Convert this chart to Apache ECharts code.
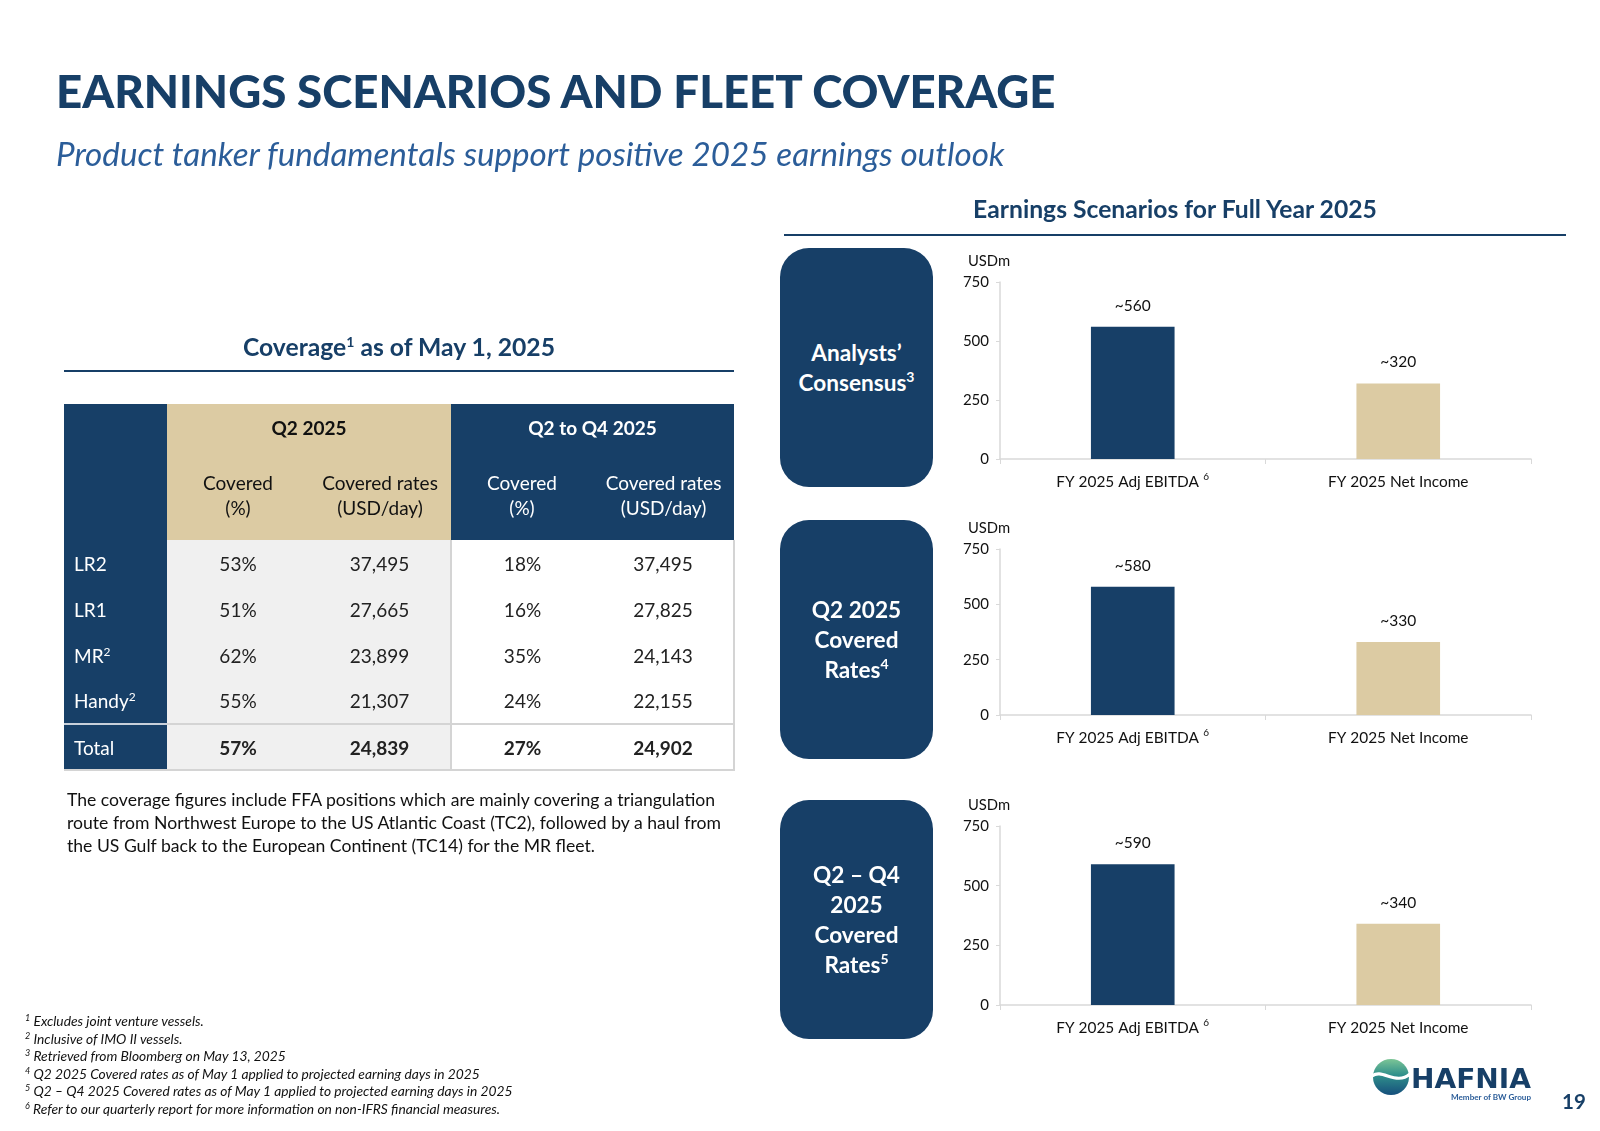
<!DOCTYPE html>
<html>
<head>
<meta charset="utf-8">
<script src="https://cdn.jsdelivr.net/npm/echarts@6/dist/echarts.min.js"></script>
<style>
  html, body { margin:0; padding:0; background:#fff; }
  body { width:1600px; height:1131px; position:relative; overflow:hidden; font-family: Lato, "Open Sans", sans-serif; color:#222; }
  #chart { position:absolute; left:0; top:0; width:1600px; height:1131px; }
  .abs { position:absolute; }
  #title { left:56px; top:63px; font-size:45.6px; font-weight:900; color:#173f67; white-space:nowrap; }
  #subtitle { left:56px; top:133px; font-size:33.2px; line-height:40px; font-style:italic; color:#2b5d99; white-space:nowrap; }
  .sect { font-weight:700; color:#173f67; font-size:24.7px; line-height:30px; white-space:nowrap; text-align:center; }
  .rule { height:2px; background:#173f67; }
  table.cov { position:absolute; left:64px; top:404px; border-collapse:collapse; table-layout:fixed; font-size:19px; }
  table.cov td { padding:0; text-align:center; vertical-align:middle; }
  .nav { background:#173f67; color:#fff; }
  .tan { background:#dccba3; color:#111; }
  .gry { background:#f0f0f0; }
  .wht { background:#fff; }
  .lbl { text-align:left !important; padding-left:10px !important; }
  sup { font-size:12px; vertical-align:7px; line-height:0; }
  .sect sup { font-size:14px; vertical-align:9px; }
  .box { position:absolute; left:780px; width:153px; height:239px; border-radius:29px; background:#173f67; color:#fff; font-weight:700; font-size:22.6px; display:flex; align-items:center; justify-content:center; text-align:center; line-height:30px; }
  .box sup { font-size:14px; vertical-align:9px; }
  #para { left:67px; top:788px; font-size:17.6px; line-height:23px; color:#111; width:670px; }
  #notes { left:25px; top:1012px; font-size:13.8px; line-height:17.55px; font-style:italic; color:#111; white-space:nowrap; }
  #notes sup { font-size:9px; vertical-align:5px; }
  #pg { left:1562px; top:1088px; font-size:20.5px; line-height:26px; font-weight:700; color:#173f67; }
</style>
</head>
<body>
<div id="chart"></div>

<div id="title" class="abs">EARNINGS SCENARIOS AND FLEET COVERAGE</div>
<div id="subtitle" class="abs">Product tanker fundamentals support positive 2025 earnings outlook</div>

<div class="abs sect" style="left:784px; width:782px; top:194px;">Earnings Scenarios for Full Year 2025</div>
<div class="abs rule" style="left:784px; width:782px; top:234px;"></div>

<div class="abs sect" style="left:64px; width:670px; top:332px;">Coverage<sup>1</sup> as of May 1, 2025</div>
<div class="abs rule" style="left:64px; width:670px; top:370px;"></div>

<table class="cov" id="covTable"></table>

<div class="box" style="top:248px;"><div>Analysts’<br>Consensus<sup>3</sup></div></div>
<div class="box" style="top:520px;"><div>Q2 2025<br>Covered<br>Rates<sup>4</sup></div></div>
<div class="box" style="top:800px;"><div>Q2 – Q4<br>2025<br>Covered<br>Rates<sup>5</sup></div></div>

<div id="para" class="abs">The coverage figures include FFA positions which are mainly covering a triangulation route from Northwest Europe to the US Atlantic Coast (TC2), followed by a haul from the US Gulf back to the European Continent (TC14) for the MR fleet.</div>

<div id="notes" class="abs">
<div><sup>1</sup> Excludes joint venture vessels.</div>
<div><sup>2</sup> Inclusive of IMO II vessels.</div>
<div><sup>3</sup> Retrieved from Bloomberg on May 13, 2025</div>
<div><sup>4</sup> Q2 2025 Covered rates as of May 1 applied to projected earning days in 2025</div>
<div><sup>5</sup> Q2 – Q4 2025 Covered rates as of May 1 applied to projected earning days in 2025</div>
<div><sup>6</sup> Refer to our quarterly report for more information on non-IFRS financial measures.</div>
</div>

<svg class="abs" style="left:1372px; top:1058px;" width="162" height="46" viewBox="0 0 162 46">
  <defs>
    <linearGradient id="lg" x1="0" y1="0" x2="0" y2="1">
      <stop offset="0" stop-color="#7cc596"/>
      <stop offset="0.45" stop-color="#2f8f8b"/>
      <stop offset="1" stop-color="#164f7c"/>
    </linearGradient>
  </defs>
  <circle cx="19" cy="19" r="18" fill="url(#lg)"/>
  <path d="M0 18 C 10 10, 24 28, 38 16" stroke="#fff" stroke-width="3.2" fill="none"/>
  <text x="39" y="30" font-family="DejaVu Sans" font-weight="700" font-size="27" fill="#173f67" textLength="120" lengthAdjust="spacingAndGlyphs">HAFNIA</text>
  <text x="79" y="42" font-family="Lato" font-weight="700" font-size="8" fill="#2b5d99" textLength="80" lengthAdjust="spacingAndGlyphs">Member of BW Group</text>
</svg>
<div id="pg" class="abs">19</div>

<script>
// ---------- Table data ----------
const vesselClasses = ['LR2', 'LR1', 'MR', 'Handy'];
const vesselFootnotes = ['', '', '2', '2'];
const q2CoveredPct = [53, 51, 62, 55];
const q2CoveredRates = [37495, 27665, 23899, 21307];
const q2q4CoveredPct = [18, 16, 35, 24];
const q2q4CoveredRates = [37495, 27825, 24143, 22155];
const totalRow = { label: 'Total', q2Pct: 57, q2Rate: 24839, q2q4Pct: 27, q2q4Rate: 24902 };

// ---------- Chart data ----------
const categories = ['FY 2025 Adj EBITDA', 'FY 2025 Net Income'];
const consensusValues = [560, 320];
const q2CoveredValues = [580, 330];
const q2q4CoveredValues = [590, 340];
const yTickValues = [0, 250, 500, 750];

// build table
(function () {
  const fmt = n => n.toLocaleString('en-US');
  const t = document.getElementById('covTable');
  const cw = [103, 142, 142, 142, 141];
  let html = '<colgroup>' + cw.map(w => `<col style="width:${w}px">`).join('') + '</colgroup>';
  html += `<tr style="height:47px"><td class="nav" rowspan="2"></td>
    <td class="tan" colspan="2" style="font-weight:700">Q2 2025</td>
    <td class="nav" colspan="2" style="font-weight:700">Q2 to Q4 2025</td></tr>`;
  html += `<tr style="height:89px">
    <td class="tan" style="line-height:24.5px">Covered<br>(%)</td>
    <td class="tan" style="line-height:24.5px">Covered rates<br>(USD/day)</td>
    <td class="nav" style="line-height:24.5px">Covered<br>(%)</td>
    <td class="nav" style="line-height:24.5px">Covered rates<br>(USD/day)</td></tr>`;
  vesselClasses.forEach((v, i) => {
    const sup = vesselFootnotes[i] ? `<sup>${vesselFootnotes[i]}</sup>` : '';
    html += `<tr style="height:46px">
      <td class="nav lbl">${v}${sup}</td>
      <td class="gry">${q2CoveredPct[i]}%</td>
      <td class="gry">${fmt(q2CoveredRates[i])}</td>
      <td class="wht" style="border-left:2px solid #d4d4d4">${q2q4CoveredPct[i]}%</td>
      <td class="wht" style="border-right:2px solid #d4d4d4">${fmt(q2q4CoveredRates[i])}</td></tr>`;
  });
  html += `<tr style="height:46px; border-top:2px solid #d4d4d4">
      <td class="nav lbl" style="border-top:2px solid #c8d0da">${totalRow.label}</td>
      <td class="gry" style="font-weight:700">${totalRow.q2Pct}%</td>
      <td class="gry" style="font-weight:700">${fmt(totalRow.q2Rate)}</td>
      <td class="wht" style="font-weight:700;border-left:2px solid #d4d4d4">${totalRow.q2q4Pct}%</td>
      <td class="wht" style="font-weight:700;border-right:2px solid #d4d4d4">${fmt(totalRow.q2q4Rate)}</td></tr>`;
  t.innerHTML = html;
  t.style.borderBottom = '2px solid #d4d4d4';
})();

// build charts
const NAVY = '#173f67', TAN = '#dccba3';
const chart = echarts.init(document.getElementById('chart'), null, { renderer: 'canvas' });
const grids = [
  { left: 1000, top: 282, width: 531, height: 177 },
  { left: 1000, top: 549, width: 531, height: 166 },
  { left: 1000, top: 826, width: 531, height: 179 }
];
const seriesData = [consensusValues, q2CoveredValues, q2q4CoveredValues];
const xAxes = grids.map((g, i) => ({
  type: 'category', gridIndex: i, data: categories,
  axisLine: { lineStyle: { color: '#d9d9d9', width: 1.5 } },
  axisTick: { show: true, lineStyle: { color: '#d9d9d9' }, length: 5 },
  axisLabel: {
    color: '#111', fontSize: 15.4, margin: 13, fontFamily: 'Lato', lineHeight: 20,
    formatter: v => v === categories[0] ? '{a|' + v + '}{s| 6}' : '{a|' + v + '}',
    rich: {
      a: { fontSize: 15.4, lineHeight: 20, color: '#111', fontFamily: 'Lato' },
      s: { fontSize: 10, lineHeight: 11, verticalAlign: 'top', padding: [0, 0, 0, 2], color: '#111', fontFamily: 'Lato' }
    }
  }
}));
const yAxes = grids.map((g, i) => ({
  type: 'value', gridIndex: i, min: yTickValues[0], max: yTickValues[yTickValues.length - 1], interval: 250,
  name: 'USDm', nameLocation: 'end', nameGap: 13,
  nameTextStyle: { color: '#111', fontSize: 14.8, fontFamily: 'Lato', align: 'center', padding: [0, 22, 0, 0] },
  axisLine: { show: true, lineStyle: { color: '#d9d9d9', width: 1.5 } },
  axisTick: { show: true, lineStyle: { color: '#d9d9d9' }, length: 4 },
  splitLine: { show: false },
  axisLabel: { color: '#111', fontSize: 15, fontFamily: 'Lato', margin: 11 }
}));
const series = seriesData.map((vals, i) => ({
  type: 'bar', xAxisIndex: i, yAxisIndex: i, barWidth: '31.5%',
  data: vals.map((v, j) => ({ value: v, itemStyle: { color: j === 0 ? NAVY : TAN } })),
  label: { show: true, position: 'top', distance: 13, formatter: p => '~' + p.value, color: '#111', fontSize: 15.5, fontFamily: 'Lato' }
}));
chart.setOption({ animation: false, grid: grids, xAxis: xAxes, yAxis: yAxes, series });
</script>
</body>
</html>
